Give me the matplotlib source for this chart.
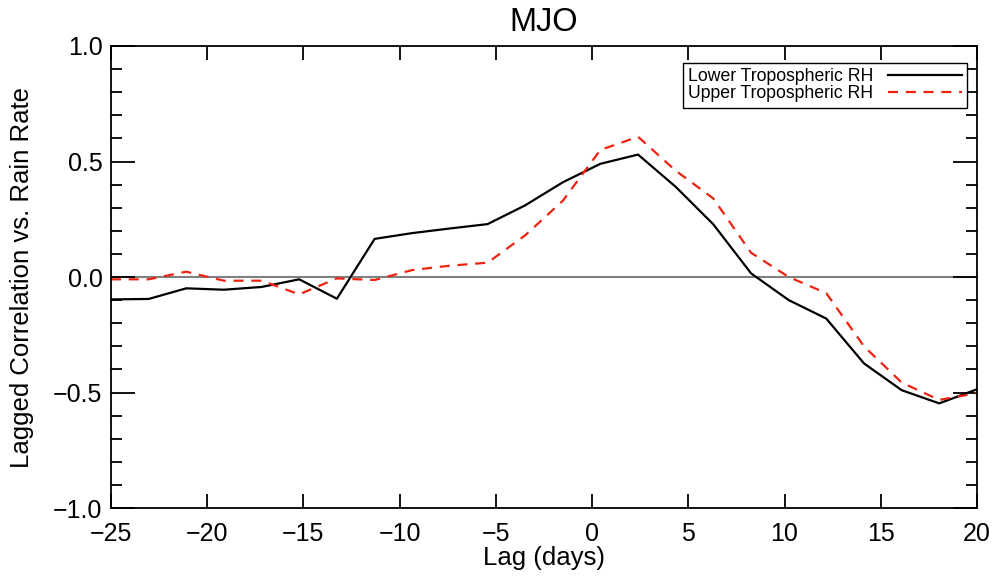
import matplotlib
matplotlib.use('Agg')
import matplotlib.pyplot as plt
from matplotlib.ticker import MultipleLocator

plt.rcParams['font.family'] = ['Liberation Sans', 'DejaVu Sans']

# lag in days
lag = [-25.0, -23.04, -21.09, -19.13, -17.17, -15.22, -13.26, -11.30,
       -9.35, -7.39, -5.43, -3.48, -1.52, 0.43, 2.39, 4.35,
       6.30, 8.26, 10.22, 12.17, 14.13, 16.09, 18.04, 20.0]

lower_rh = [-0.097, -0.095, -0.049, -0.055, -0.043, -0.010, -0.094, 0.165,
            0.19, 0.21, 0.229, 0.31, 0.41, 0.49, 0.53, 0.39,
            0.228, 0.016, -0.10, -0.18, -0.374, -0.49, -0.547, -0.486]

upper_rh = [-0.01, -0.01, 0.023, -0.016, -0.016, -0.075, -0.006, -0.013,
            0.03, 0.049, 0.062, 0.18, 0.33, 0.55, 0.607, 0.46,
            0.34, 0.105, 0.0, -0.07, -0.30, -0.457, -0.532, -0.503]

fig = plt.figure(figsize=(9.97, 5.8), dpi=100)
ax = fig.add_axes([0.1113, 0.1241, 0.8686, 0.7966])

ax.axhline(0, color='#808080', lw=1.5, zorder=1)
ax.plot(lag, lower_rh, color='black', lw=1.6, label='Lower Tropospheric RH')
ax.plot(lag, upper_rh, color='#ee2211', lw=1.6, ls=(0, (4.5, 3.5)),
        label='Upper Tropospheric RH')

ax.set_xlim(-25, 20)
ax.set_ylim(-1.0, 1.0)
ax.xaxis.set_major_locator(MultipleLocator(5))
ax.yaxis.set_major_locator(MultipleLocator(0.5))
ax.yaxis.set_minor_locator(MultipleLocator(0.1))
ax.xaxis.set_major_formatter(plt.FuncFormatter(lambda v, p: ('%d' % v).replace('-', '\u2212')))
ax.yaxis.set_major_formatter(plt.FuncFormatter(lambda v, p: ('%.1f' % v).replace('-', '\u2212')))

ax.tick_params(axis='x', which='major', direction='in', length=10, width=1.3,
               top=True, labelsize=18, pad=10)
ax.tick_params(axis='y', which='major', direction='in', length=17, width=1.3,
               right=True, labelsize=18, pad=6)
ax.tick_params(axis='y', which='minor', direction='in', length=8, width=1.3,
               right=True)
for s in ax.spines.values():
    s.set_linewidth(1.3)

ax.set_title('MJO', fontsize=23.5, pad=11)
ax.set_xlabel('Lag (days)', fontsize=18.5, labelpad=0)
ax.set_ylabel('Lagged Correlation vs. Rain Rate', fontsize=18.5)
ax.yaxis.set_label_coords(-0.089, 0.5)

leg = ax.legend(loc='upper right', bbox_to_anchor=(0.9885, 0.963), fontsize=12.7,
                markerfirst=False, fancybox=False, edgecolor='black',
                framealpha=1, handlelength=4.2, borderpad=0.3,
                labelspacing=0.0, handletextpad=0.8, borderaxespad=0)
leg.get_frame().set_linewidth(1.0)

fig.savefig('out.png', dpi=100)
